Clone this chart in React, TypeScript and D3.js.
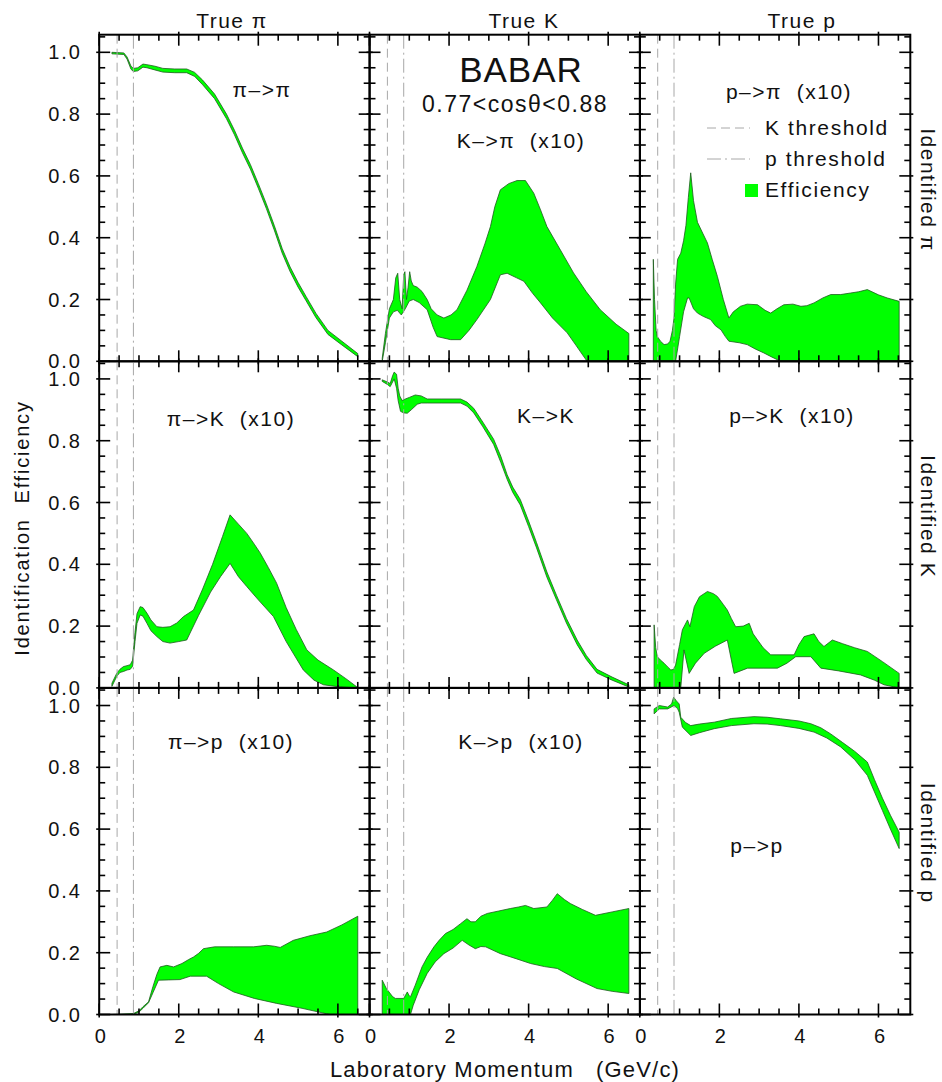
import { useEffect, useRef } from "react";
import * as d3 from "d3";

type Pt = [number, number];

// true species (columns) and identified species (rows)
const trueLabels = ["True π", "True K", "True p"];
const idLabels = ["Identified π", "Identified K", "Identified p"];
const xTickLabels = [0, 2, 4, 6];
const yTickLabels = [0, 0.2, 0.4, 0.6, 0.8, 1.0];
const kThreshold = 0.45;
const pThreshold = 0.86;

// band edges, [momentum GeV/c, efficiency]
const piPiUpper: Pt[] = [[0.32,1.0],[0.62,0.998],[0.7,0.985],[0.8,0.955],[0.86,0.948],[0.97,0.95],[1.1,0.962],[1.2,0.96],[1.4,0.955],[1.6,0.948],[1.9,0.946],[2.2,0.946],[2.4,0.935],[2.6,0.91],[2.9,0.865],[3.2,0.8],[3.4,0.748],[3.6,0.69],[3.8,0.637],[4.0,0.575],[4.2,0.51],[4.4,0.44],[4.6,0.365],[4.8,0.305],[5.0,0.255],[5.2,0.21],[5.45,0.155],[5.75,0.1],[6.1,0.065],[6.5,0.025]];
const piPiLower: Pt[] = [[0.32,0.995],[0.62,0.993],[0.7,0.978],[0.8,0.945],[0.86,0.938],[0.97,0.94],[1.1,0.952],[1.2,0.95],[1.4,0.943],[1.6,0.936],[1.9,0.934],[2.2,0.934],[2.4,0.922],[2.6,0.895],[2.9,0.85],[3.2,0.785],[3.4,0.733],[3.6,0.675],[3.8,0.622],[4.0,0.56],[4.2,0.495],[4.4,0.425],[4.6,0.35],[4.8,0.29],[5.0,0.24],[5.2,0.196],[5.45,0.141],[5.75,0.087],[6.1,0.053],[6.5,0.015]];

const kPiUpper: Pt[] = [[0.32,0.01],[0.4,0.09],[0.5,0.17],[0.6,0.2],[0.66,0.27],[0.71,0.285],[0.76,0.2],[0.82,0.17],[0.86,0.28],[0.89,0.29],[0.93,0.2],[0.97,0.24],[1.01,0.29],[1.05,0.26],[1.1,0.245],[1.2,0.24],[1.32,0.226],[1.45,0.2],[1.55,0.17],[1.7,0.15],[1.87,0.14],[2.05,0.15],[2.2,0.167],[2.45,0.23],[2.7,0.307],[2.9,0.38],[3.04,0.436],[3.15,0.5],[3.29,0.555],[3.5,0.575],[3.71,0.585],[3.92,0.585],[4.13,0.544],[4.3,0.49],[4.46,0.436],[4.8,0.36],[5.13,0.286],[5.45,0.225],[5.8,0.167],[6.2,0.12],[6.52,0.09]];
const kPiLower: Pt[] = [[0.32,0.0],[0.4,0.06],[0.5,0.14],[0.6,0.16],[0.7,0.165],[0.8,0.15],[0.9,0.17],[1.0,0.195],[1.1,0.2],[1.25,0.19],[1.45,0.167],[1.6,0.11],[1.7,0.08],[2.04,0.07],[2.29,0.07],[2.5,0.1],[2.7,0.135],[3.04,0.2],[3.29,0.28],[3.46,0.285],[3.7,0.27],[3.88,0.259],[4.1,0.22],[4.3,0.189],[4.6,0.14],[4.97,0.092],[5.2,0.05],[5.47,0.0],[6.52,0.0]];

const pPiUpper: Pt[] = [[0.34,0.33],[0.37,0.2],[0.41,0.1],[0.44,0.08],[0.52,0.065],[0.61,0.054],[0.7,0.056],[0.76,0.065],[0.82,0.1],[0.86,0.14],[0.9,0.25],[0.95,0.33],[1.03,0.35],[1.1,0.39],[1.16,0.44],[1.22,0.53],[1.28,0.61],[1.35,0.52],[1.45,0.45],[1.58,0.415],[1.7,0.383],[1.82,0.33],[1.95,0.275],[2.1,0.2],[2.24,0.14],[2.35,0.16],[2.53,0.178],[2.7,0.185],[2.96,0.183],[3.15,0.165],[3.29,0.156],[3.45,0.17],[3.62,0.183],[3.85,0.185],[4.05,0.178],[4.2,0.18],[4.38,0.189],[4.6,0.205],[4.8,0.216],[5.05,0.216],[5.3,0.221],[5.5,0.225],[5.72,0.232],[6.0,0.215],[6.22,0.205],[6.52,0.194]];
const pPiLower: Pt[] = [[0.34,0.0],[0.9,0.0],[1.0,0.08],[1.1,0.16],[1.2,0.205],[1.24,0.205],[1.35,0.17],[1.45,0.156],[1.6,0.145],[1.78,0.135],[1.9,0.115],[2.04,0.102],[2.15,0.08],[2.24,0.065],[2.5,0.06],[2.7,0.054],[2.9,0.04],[3.12,0.027],[3.3,0.015],[3.54,0.0],[6.52,0.0]];

const piKUpper: Pt[] = [[0.32,0.015],[0.44,0.047],[0.52,0.06],[0.61,0.069],[0.7,0.072],[0.78,0.075],[0.84,0.09],[0.9,0.18],[0.95,0.24],[1.03,0.263],[1.1,0.26],[1.2,0.242],[1.3,0.22],[1.45,0.198],[1.6,0.196],[1.78,0.198],[1.95,0.21],[2.12,0.231],[2.37,0.252],[2.6,0.32],[2.85,0.4],[3.1,0.49],[3.29,0.56],[3.5,0.53],[3.71,0.5],[3.9,0.465],[4.05,0.436],[4.25,0.39],[4.46,0.339],[4.7,0.26],[4.95,0.19],[5.22,0.123],[5.5,0.09],[5.89,0.058],[6.2,0.03],[6.47,0.004]];
const piKLower: Pt[] = [[0.32,0.005],[0.44,0.037],[0.52,0.05],[0.61,0.053],[0.7,0.058],[0.78,0.06],[0.84,0.07],[0.9,0.15],[0.95,0.209],[1.03,0.236],[1.1,0.232],[1.2,0.209],[1.3,0.185],[1.45,0.166],[1.6,0.15],[1.78,0.145],[2.0,0.15],[2.2,0.155],[2.5,0.235],[2.8,0.31],[3.05,0.36],[3.29,0.403],[3.5,0.36],[3.71,0.328],[4.0,0.285],[4.38,0.231],[4.7,0.15],[5.13,0.058],[5.4,0.025],[5.64,0.01],[6.0,0.004],[6.47,0.0]];

const kKUpper: Pt[] = [[0.32,0.997],[0.45,0.99],[0.52,0.985],[0.58,1.01],[0.62,1.022],[0.68,1.015],[0.72,0.97],[0.76,0.945],[0.82,0.93],[0.9,0.935],[1.0,0.94],[1.15,0.948],[1.3,0.945],[1.45,0.935],[1.8,0.935],[2.29,0.935],[2.45,0.925],[2.62,0.905],[2.85,0.86],[3.12,0.805],[3.3,0.75],[3.46,0.69],[3.6,0.65],[3.79,0.61],[4.0,0.54],[4.2,0.47],[4.46,0.375],[4.7,0.3],[4.95,0.225],[5.22,0.155],[5.45,0.105],[5.72,0.06],[6.1,0.035],[6.52,0.01]];
const kKLower: Pt[] = [[0.32,0.992],[0.45,0.982],[0.52,0.975],[0.58,0.99],[0.62,1.0],[0.68,0.97],[0.72,0.93],[0.78,0.895],[0.86,0.89],[0.95,0.889],[1.05,0.9],[1.2,0.918],[1.3,0.922],[1.45,0.922],[1.8,0.922],[2.29,0.922],[2.45,0.912],[2.62,0.89],[2.85,0.845],[3.12,0.788],[3.3,0.73],[3.46,0.675],[3.6,0.633],[3.79,0.592],[4.0,0.522],[4.2,0.453],[4.46,0.358],[4.7,0.285],[4.95,0.21],[5.22,0.14],[5.45,0.092],[5.72,0.048],[6.1,0.025],[6.52,0.003]];

const pKUpper: Pt[] = [[0.36,0.204],[0.4,0.13],[0.44,0.101],[0.52,0.09],[0.61,0.08],[0.7,0.068],[0.78,0.058],[0.85,0.06],[0.9,0.074],[1.0,0.14],[1.07,0.188],[1.2,0.22],[1.26,0.198],[1.37,0.263],[1.5,0.295],[1.7,0.312],[1.85,0.305],[1.95,0.296],[2.1,0.27],[2.2,0.252],[2.3,0.225],[2.41,0.198],[2.6,0.2],[2.75,0.209],[2.85,0.175],[2.96,0.155],[3.1,0.13],[3.29,0.107],[3.6,0.107],[3.88,0.107],[4.0,0.14],[4.13,0.166],[4.38,0.175],[4.5,0.15],[4.63,0.134],[4.84,0.155],[5.1,0.143],[5.4,0.13],[5.72,0.118],[6.1,0.085],[6.52,0.047]];
const pKLower: Pt[] = [[0.36,0.0],[1.03,0.0],[1.11,0.123],[1.24,0.047],[1.4,0.08],[1.62,0.112],[1.9,0.135],[2.2,0.155],[2.37,0.047],[2.71,0.064],[3.1,0.064],[3.46,0.064],[3.7,0.08],[3.92,0.101],[4.3,0.101],[4.55,0.064],[5.0,0.055],[5.55,0.042],[5.9,0.025],[6.14,0.01],[6.52,0.0]];

const piPUpper: Pt[] = [[0.32,0.0],[0.86,0.003],[1.0,0.012],[1.1,0.025],[1.24,0.041],[1.35,0.09],[1.45,0.13],[1.53,0.154],[1.7,0.159],[1.87,0.154],[2.08,0.165],[2.25,0.178],[2.37,0.186],[2.5,0.198],[2.62,0.213],[2.9,0.219],[3.38,0.219],[3.88,0.219],[4.21,0.224],[4.4,0.221],[4.55,0.217],[4.88,0.24],[5.3,0.255],[5.72,0.267],[6.1,0.29],[6.5,0.318]];
const piPLower: Pt[] = [[0.32,0.0],[0.86,0.0],[1.0,0.008],[1.1,0.02],[1.24,0.038],[1.35,0.07],[1.49,0.111],[1.75,0.112],[2.03,0.113],[2.29,0.124],[2.7,0.124],[3.0,0.1],[3.38,0.073],[3.9,0.052],[4.46,0.036],[5.1,0.02],[5.8,0.0],[6.5,0.0]];

const kPUpper: Pt[] = [[0.32,0.111],[0.42,0.085],[0.49,0.073],[0.58,0.058],[0.65,0.052],[0.86,0.052],[0.95,0.073],[1.0,0.06],[1.03,0.057],[1.15,0.095],[1.32,0.154],[1.45,0.185],[1.62,0.219],[1.75,0.24],[1.91,0.262],[2.1,0.275],[2.29,0.294],[2.45,0.31],[2.55,0.3],[2.66,0.3],[2.8,0.318],[2.96,0.327],[3.25,0.335],[3.54,0.343],[3.75,0.348],[3.92,0.353],[4.13,0.343],[4.46,0.348],[4.6,0.37],[4.72,0.391],[4.9,0.372],[5.05,0.359],[5.35,0.34],[5.68,0.321],[6.1,0.332],[6.52,0.343]];
const kPLower: Pt[] = [[0.32,0.0],[1.03,0.0],[1.1,0.03],[1.25,0.08],[1.45,0.133],[1.65,0.17],[1.87,0.197],[2.1,0.215],[2.33,0.24],[2.5,0.225],[2.66,0.213],[2.8,0.22],[2.92,0.219],[3.29,0.197],[3.7,0.18],[4.05,0.165],[4.4,0.155],[4.72,0.149],[5.2,0.115],[5.72,0.084],[6.1,0.075],[6.52,0.068]];

const pPUpper: Pt[] = [[0.36,0.989],[0.49,1.0],[0.7,0.995],[0.8,1.005],[0.85,1.027],[0.92,1.015],[0.99,1.005],[1.03,0.962],[1.15,0.945],[1.28,0.935],[1.5,0.94],[1.87,0.946],[2.3,0.958],[2.87,0.964],[3.2,0.962],[3.54,0.957],[4.0,0.95],[4.3,0.941],[4.55,0.928],[4.8,0.908],[5.1,0.88],[5.4,0.852],[5.72,0.817],[5.9,0.76],[6.1,0.7],[6.3,0.645],[6.52,0.59]];
const pPLower: Pt[] = [[0.36,0.973],[0.49,0.989],[0.7,0.989],[0.86,1.0],[0.95,0.99],[0.99,0.978],[1.07,0.93],[1.28,0.903],[1.5,0.912],[1.87,0.925],[2.3,0.935],[2.87,0.941],[3.2,0.94],[3.54,0.935],[4.0,0.926],[4.38,0.914],[4.7,0.895],[5.05,0.866],[5.4,0.825],[5.72,0.774],[5.9,0.72],[6.1,0.66],[6.3,0.6],[6.52,0.537]];

const panelLabels = [
  ["π–>π", "K–>π  (x10)", "p–>π  (x10)"],
  ["π–>K  (x10)", "K–>K", "p–>K  (x10)"],
  ["π–>p  (x10)", "K–>p  (x10)", "p–>p"],
];

const bands: [Pt[], Pt[]][][] = [
  [[piPiUpper, piPiLower], [kPiUpper, kPiLower], [pPiUpper, pPiLower]],
  [[piKUpper, piKLower], [kKUpper, kKLower], [pKUpper, pKLower]],
  [[piPUpper, piPLower], [kPUpper, kPLower], [pPUpper, pPLower]],
];

const FONT = "'Liberation Sans', Arial, Helvetica, sans-serif";

export default function App() {
  const ref = useRef<HTMLDivElement>(null);

  useEffect(() => {
    const container = d3.select(ref.current);
    container.selectAll("*").remove();

    const width = 942;
    const height = 1082;
    const colX = [99.2, 369.5, 639.8];
    const rowY = [34.7, 361.3, 687.9];
    const pw = 270.5;
    const ph = 326.6;

    const svg = container
      .append("svg")
      .attr("width", width)
      .attr("height", height)
      .style("position", "absolute")
      .style("left", "0px")
      .style("top", "0px")
      .style("background", "#fff");

    const x = d3.scaleLinear().domain([0, 6.8]).range([0, pw]);
    const y = d3.scaleLinear().domain([0, 1.057]).range([ph, 0]);

    const line = d3
      .line<Pt>()
      .x((d) => x(d[0]))
      .y((d) => y(d[1]))
      .curve(d3.curveLinearClosed);

    // label positions inside each panel (absolute page coords)
    const labelPos = [
      [[262, 97], [521, 148], [789, 99]],
      [[231, 426], [546, 423], [792, 423]],
      [[231, 749], [521, 749], [757, 853]],
    ];

    const xMinor = d3.range(0, 6.8, 0.5);
    const yMinor = d3.range(0, 1.051, 0.05);

    for (let r = 0; r < 3; r++) {
      for (let c = 0; c < 3; c++) {
        const g = svg.append("g").attr("transform", `translate(${colX[c]},${rowY[r]})`);
        const [up, lo] = bands[r][c];

        g.append("path")
          .attr("d", line([...up, ...lo.slice().reverse()]))
          .attr("fill", "#00ff00")
          .attr("stroke", "#1d5a1d")
          .attr("stroke-width", 0.8)
          .attr("stroke-linejoin", "round");

        // thresholds
        g.append("line")
          .attr("x1", x(kThreshold)).attr("x2", x(kThreshold))
          .attr("y1", 0).attr("y2", ph)
          .attr("stroke", "#a8a8a8").attr("stroke-width", 1)
          .attr("stroke-dasharray", "9,5");
        g.append("line")
          .attr("x1", x(pThreshold)).attr("x2", x(pThreshold))
          .attr("y1", 0).attr("y2", ph)
          .attr("stroke", "#a8a8a8").attr("stroke-width", 1)
          .attr("stroke-dasharray", "14,4,2,4");

        // ticks on all four sides, pointing in
        xMinor.forEach((v) => {
          const major = Math.abs(v % 2) < 1e-6;
          const len = major ? 11 : 6;
          const out = major ? 3 : 0;
          g.append("line").attr("x1", x(v)).attr("x2", x(v))
            .attr("y1", ph + out).attr("y2", ph - len)
            .attr("stroke", "#000").attr("stroke-width", 1.6);
          g.append("line").attr("x1", x(v)).attr("x2", x(v))
            .attr("y1", -out).attr("y2", len)
            .attr("stroke", "#000").attr("stroke-width", 1.6);
        });
        yMinor.forEach((v) => {
          const major = Math.abs((v * 5) - Math.round(v * 5)) < 1e-6;
          const len = major ? 11 : 6;
          const out = major ? 3 : 0;
          g.append("line").attr("x1", -out).attr("x2", len)
            .attr("y1", y(v)).attr("y2", y(v))
            .attr("stroke", "#000").attr("stroke-width", 1.6);
          g.append("line").attr("x1", pw + out).attr("x2", pw - len)
            .attr("y1", y(v)).attr("y2", y(v))
            .attr("stroke", "#000").attr("stroke-width", 1.6);
        });

        g.append("rect")
          .attr("width", pw).attr("height", ph)
          .attr("fill", "none").attr("stroke", "#000").attr("stroke-width", 2);

        const [lx, ly] = labelPos[r][c];
        svg.append("text")
          .attr("x", lx).attr("y", ly)
          .attr("text-anchor", "middle")
          .style("font-family", FONT).style("font-size", "21px")
          .style("letter-spacing", "1.5px").style("white-space", "pre")
          .attr("fill", "#111")
          .text(panelLabels[r][c]);

        // y tick labels on left column
        if (c === 0) {
          yTickLabels.forEach((v) => {
            svg.append("text")
              .attr("x", 82).attr("y", rowY[r] + y(v) + 7)
              .attr("text-anchor", "end")
              .style("font-family", FONT).style("font-size", "20px")
              .style("letter-spacing", "2px")
              .attr("fill", "#111")
              .text(v.toFixed(1));
          });
        }
        // x tick labels on bottom row
        if (r === 2) {
          xTickLabels.forEach((v) => {
            svg.append("text")
              .attr("x", colX[c] + x(v) + 1).attr("y", 1043)
              .attr("text-anchor", "middle")
              .style("font-family", FONT).style("font-size", "20px")
              .attr("fill", "#111")
              .text(v);
          });
        }
      }
    }

    // column titles
    const titleX = [232, 524, 802];
    trueLabels.forEach((t, i) => {
      svg.append("text")
        .attr("x", titleX[i]).attr("y", 28)
        .attr("text-anchor", "middle")
        .style("font-family", FONT).style("font-size", "21px")
        .style("letter-spacing", "1.5px")
        .attr("fill", "#111")
        .text(t);
    });

    // row titles on the right
    idLabels.forEach((t, i) => {
      const cy = rowY[i] + ph / 2 - 8;
      svg.append("text")
        .attr("transform", `translate(921,${cy}) rotate(90)`)
        .attr("text-anchor", "middle")
        .style("font-family", FONT).style("font-size", "21px")
        .style("letter-spacing", "1.5px")
        .attr("fill", "#111")
        .text(t);
    });

    // axis titles
    svg.append("text")
      .attr("transform", `translate(29,528) rotate(-90)`)
      .attr("text-anchor", "middle")
      .style("font-family", FONT).style("font-size", "20px")
      .style("letter-spacing", "1.8px").style("white-space", "pre")
      .attr("fill", "#111")
      .text("Identification  Efficiency");

    svg.append("text")
      .attr("x", 505).attr("y", 1077)
      .attr("text-anchor", "middle")
      .style("font-family", FONT).style("font-size", "22px")
      .style("letter-spacing", "1.2px").style("white-space", "pre")
      .attr("fill", "#111")
      .text("Laboratory Momentum   (GeV/c)");

    // BABAR header
    svg.append("text")
      .attr("x", 521).attr("y", 82)
      .attr("text-anchor", "middle")
      .style("font-family", FONT).style("font-size", "35px")
      .style("letter-spacing", "1px")
      .attr("fill", "#111")
      .text("BABAR");
    svg.append("text")
      .attr("x", 515).attr("y", 112)
      .attr("text-anchor", "middle")
      .style("font-family", FONT).style("font-size", "23px")
      .style("letter-spacing", "1.5px")
      .attr("fill", "#111")
      .text("0.77<cosθ<0.88");

    // legend
    svg.append("line")
      .attr("x1", 707).attr("x2", 750).attr("y1", 128).attr("y2", 128)
      .attr("stroke", "#a8a8a8").attr("stroke-width", 1)
      .attr("stroke-dasharray", "9,5");
    svg.append("line")
      .attr("x1", 707).attr("x2", 750).attr("y1", 159).attr("y2", 159)
      .attr("stroke", "#a8a8a8").attr("stroke-width", 1)
      .attr("stroke-dasharray", "14,4,2,4");
    svg.append("rect")
      .attr("x", 745).attr("y", 184).attr("width", 13).attr("height", 13)
      .attr("fill", "#00ff00");
    [["K threshold", 135], ["p threshold", 166], ["Efficiency", 197]].forEach(([t, yy]) => {
      svg.append("text")
        .attr("x", 765).attr("y", yy as number)
        .style("font-family", FONT).style("font-size", "21px")
        .style("letter-spacing", "1.6px")
        .attr("fill", "#111")
        .text(t as string);
    });
  }, []);

  return <div ref={ref} />;
}
